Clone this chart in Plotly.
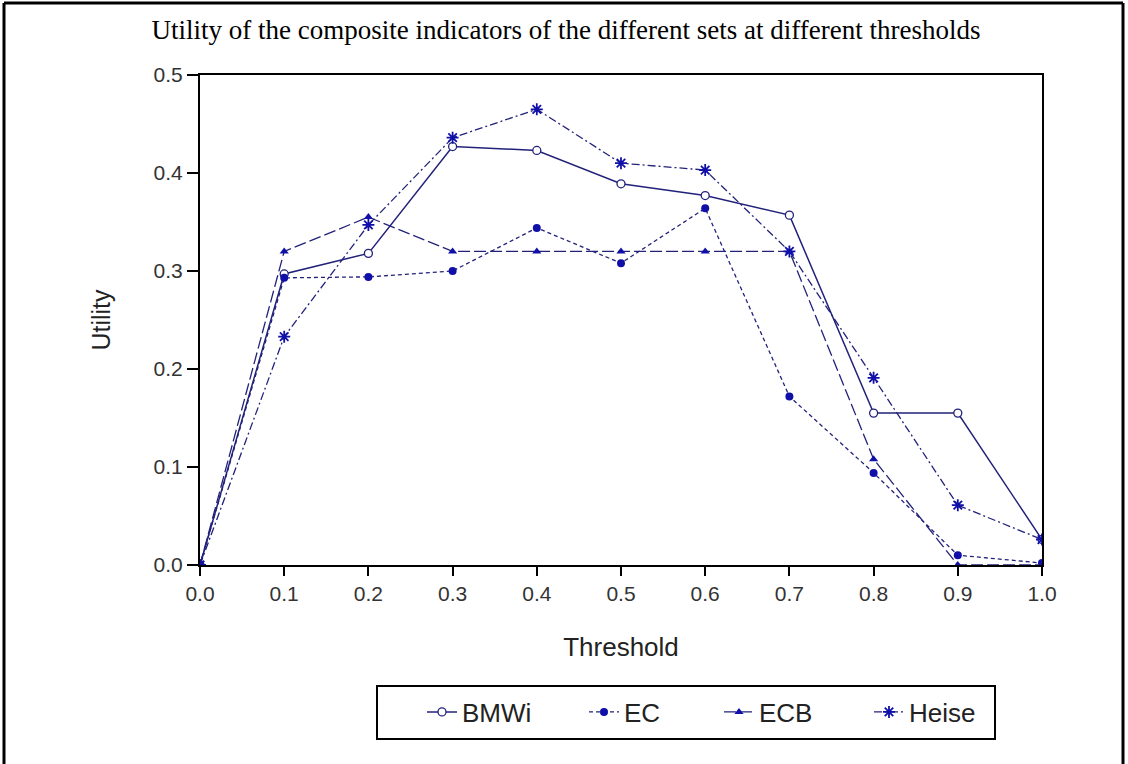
import plotly.graph_objects as go

thresholds = [0.0, 0.1, 0.2, 0.3, 0.4, 0.5, 0.6, 0.7, 0.8, 0.9, 1.0]
bmwi = [0.0, 0.297, 0.318, 0.427, 0.423, 0.389, 0.377, 0.357, 0.155, 0.155, 0.026]
ec = [0.0, 0.293, 0.294, 0.300, 0.344, 0.308, 0.364, 0.172, 0.094, 0.010, 0.002]
ecb = [0.0, 0.320, 0.355, 0.320, 0.320, 0.320, 0.320, 0.320, 0.108, 0.0, 0.0]
heise = [0.0, 0.233, 0.347, 0.436, 0.465, 0.410, 0.403, 0.320, 0.191, 0.061, 0.026]
x_ticks = [0.0, 0.1, 0.2, 0.3, 0.4, 0.5, 0.6, 0.7, 0.8, 0.9, 1.0]
y_ticks = [0.0, 0.1, 0.2, 0.3, 0.4, 0.5]

LINE = "#22227a"
MARK = "#1010a8"
SANS = "Liberation Sans, Arial, sans-serif"

L, R, T, B = 200, 86, 75, 199
W, H = 1128, 764
pw, ph = W - L - R, H - T - B

def px(x):
    return (x - L) / pw

def py(y):
    return (H - B - y) / ph

fig = go.Figure()
fig.add_trace(go.Scatter(x=thresholds, y=bmwi, name="BMWi", mode="lines+markers", legend="legend",
                         line=dict(color=LINE, width=1.5, dash="solid"),
                         marker=dict(symbol="circle", size=8, color="white",
                                     line=dict(color=LINE, width=1.3))))
fig.add_trace(go.Scatter(x=thresholds, y=ec, name="EC", mode="lines+markers", legend="legend2",
                         line=dict(color=LINE, width=1.3, dash="4px,3px"),
                         marker=dict(symbol="circle", size=8, color=MARK)))
fig.add_trace(go.Scatter(x=thresholds, y=ecb, name="ECB", mode="lines+markers", legend="legend3",
                         line=dict(color=LINE, width=1.3, dash="12px,4px"),
                         marker=dict(symbol="triangle-up", size=8, color=MARK)))
fig.add_trace(go.Scatter(x=thresholds, y=heise, name="Heise", mode="lines+markers", legend="legend4",
                         line=dict(color=LINE, width=1.3, dash="8px,3px,2px,3px"),
                         marker=dict(symbol="asterisk-open", size=10, color=MARK,
                                     line=dict(color=MARK, width=1.8))))

def leg(xpix):
    return dict(orientation="h", x=px(xpix), xanchor="left", y=py(712), yanchor="middle",
                borderwidth=0, bgcolor="rgba(0,0,0,0)",
                font=dict(family=SANS, size=26, color="#222"))

fig.update_layout(
    width=W, height=H,
    margin=dict(l=L, r=R, t=T, b=B),
    plot_bgcolor="white", paper_bgcolor="white",
    showlegend=True,
    title=dict(text="Utility of the composite indicators of the different sets at different thresholds",
               font=dict(family="Liberation Serif, Times New Roman, serif", size=27, color="black"),
               x=px(566), xanchor="center", xref="paper", y=1 - 30 / H, yanchor="middle"),
    xaxis=dict(range=[0, 1.0], tickvals=x_ticks, ticktext=[f"{v:.1f}" for v in x_ticks],
               showgrid=False, zeroline=False, showline=True, linecolor="black", linewidth=2,
               mirror=True, ticks="outside", ticklen=9, tickwidth=1.5, tickcolor="black",
               tickfont=dict(family=SANS, size=21, color="#333"),
               title=dict(text="Threshold", standoff=34,
                          font=dict(family=SANS, size=26, color="#222"))),
    yaxis=dict(range=[0, 0.5], tickvals=y_ticks, ticktext=[f"{v:.1f}" for v in y_ticks],
               showgrid=False, zeroline=False, showline=True, linecolor="black", linewidth=2,
               mirror=True, ticks="outside", ticklen=11, tickwidth=1.5, tickcolor="black",
               tickfont=dict(family=SANS, size=21, color="#333"),
               title=dict(text="Utility", standoff=36,
                          font=dict(family=SANS, size=25, color="#222"))),
    legend=leg(422),
    legend2=leg(584),
    legend3=leg(719),
    legend4=leg(869),
)

# legend box
fig.add_shape(type="rect", xref="paper", yref="paper", x0=px(377), x1=px(995), y0=py(686), y1=py(739),
              line=dict(color="black", width=2), fillcolor="white", layer="below")

# outer frame (left, top, right)
fig.add_shape(type="line", xref="paper", yref="paper", x0=px(4), x1=px(4), y0=py(764), y1=py(3),
              line=dict(color="black", width=3))
fig.add_shape(type="line", xref="paper", yref="paper", x0=px(4), x1=px(1123), y0=py(3), y1=py(3),
              line=dict(color="black", width=3))
fig.add_shape(type="line", xref="paper", yref="paper", x0=px(1123), x1=px(1123), y0=py(3), y1=py(764),
              line=dict(color="black", width=3))

fig.write_html("out.html", config={"displayModeBar": False},
               post_script="document.body.style.margin='0';document.body.style.overflow='hidden';")
